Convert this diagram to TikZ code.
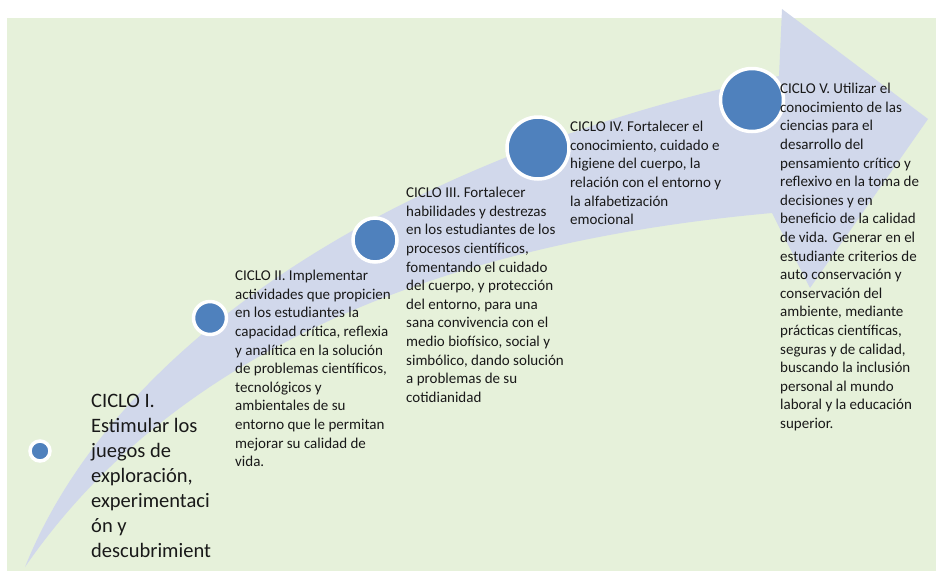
\documentclass[tikz,border=0pt]{standalone}
\usepackage{fontspec}
\setmainfont{Carlito}
\usetikzlibrary{positioning}

\definecolor{fondo}{RGB}{230,241,218}
\definecolor{flecha}{RGB}{209,216,235}
\definecolor{punto}{RGB}{79,129,189}
\definecolor{letra}{RGB}{25,25,25}

\tikzset{
	ciclo/.style={circle, fill=punto, draw=white, line width=3.5pt, inner sep=0pt},
	texto/.style={anchor=north west, align=left, inner sep=0pt, text=letra,
		font=\fontsize{15}{18.6}\selectfont},
}

\begin{document}
\begin{tikzpicture}[x=1pt,y=-1pt]
	\useasboundingbox (0,0) rectangle (936,574);
	\fill[fondo] (7,18) rectangle (936,571);

	% flecha curva
	\fill[flecha] (25,567) .. controls (120,330) and (420,150) .. (779,76)
		-- (782,9) -- (928,119) -- (810,288) -- (772,213)
		.. controls (360,250) and (140,400) .. (25,567) -- cycle;

	% puntos de cada ciclo
	\node[ciclo, minimum size=20pt] (c1) at (40,451) {};
	\node[ciclo, minimum size=33pt] (c2) at (210,318) {};
	\node[ciclo, minimum size=44pt] (c3) at (375,240) {};
	\node[ciclo, minimum size=62pt] (c4) at (538,148) {};
	\node[ciclo, minimum size=63pt] (c5) at (752,100) {};

	\node[texto, font=\fontsize{20.5}{25}\selectfont] (t1) at (91,394)
		{CICLO I.\\ Estimular los\\ juegos de\\ exploración,\\ experimentaci\\ ón y\\ descubrimient};
	\node[texto] (t2) at (235,270)
		{CICLO II. Implementar\\ actividades que propicien\\ en los estudiantes la\\
		capacidad crítica, reflexia\\ y analítica en la solución\\ de problemas científicos,\\
		tecnológicos y\\ ambientales de su\\ entorno que le permitan\\ mejorar su calidad de\\ vida.};
	\node[texto] (t3) at (406,187)
		{CICLO III. Fortalecer\\ habilidades y destrezas\\ en los estudiantes de los\\
		procesos científicos,\\ fomentando el cuidado\\ del cuerpo, y protección\\
		del entorno, para una\\ sana convivencia con el\\ medio biofísico, social y\\
		simbólico, dando solución\\ a problemas de su\\ cotidianidad};
	\node[texto] (t4) at (570,121)
		{CICLO IV. Fortalecer el\\ conocimiento, cuidado e\\ higiene del cuerpo, la\\
		relación con el entorno y\\ la alfabetización\\ emocional};
	\node[texto] (t5) at (780,83)
		{CICLO V. Utilizar el\\ conocimiento de las\\ ciencias para el\\ desarrollo del\\
		pensamiento crítico y\\ reflexivo en la toma de\\ decisiones y en\\
		beneficio de la calidad\\ de vida. Generar en el\\ estudiante criterios de\\
		auto conservación y\\ conservación del\\ ambiente, mediante\\
		prácticas científicas,\\ seguras y de calidad,\\ buscando la inclusión\\
		personal al mundo\\ laboral y la educación\\ superior.};
\end{tikzpicture}
\end{document}
